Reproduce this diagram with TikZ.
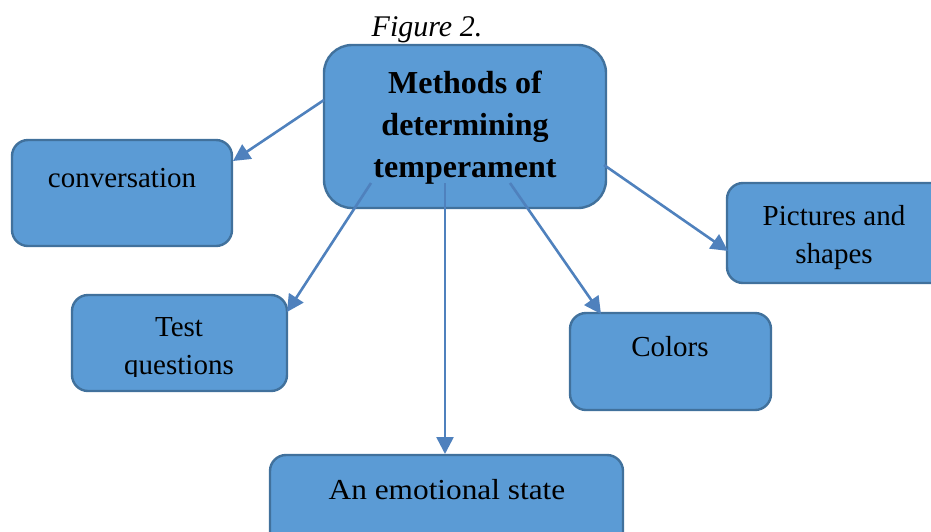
\documentclass[tikz,border=0pt]{standalone}
\usepackage{fontspec}
\usepackage{graphicx}
\setmainfont{Liberation Serif}
\usetikzlibrary{arrows.meta}
\definecolor{boxfill}{HTML}{5B9BD5}
\definecolor{boxline}{HTML}{41719C}
\definecolor{arrowcol}{HTML}{4F81BD}
\tikzset{
  x=1pt,y=-1pt,
  box/.style={draw=boxline,fill=boxfill,line width=2.4pt,rounded corners=16pt},
  bigbox/.style={box,rounded corners=28pt},
  txt/.style={font=\fontsize{29}{38}\selectfont,align=center,inner sep=0pt,anchor=base},
  bigtxt/.style={font=\fontsize{32}{42}\selectfont\bfseries,align=center,inner sep=0pt,anchor=base},
  conn/.style={draw=arrowcol,line width=2.6pt,-{Triangle[length=17pt,width=17pt]}}
}
\begin{document}
\begin{tikzpicture}
\path[use as bounding box,clip] (0,0) rectangle (931,531);
\node[font=\fontsize{30}{36}\selectfont\itshape,inner sep=0pt,anchor=base] (title) at (427,36) {Figure 2.};
% boxes
\draw[bigbox] (324,45) rectangle (606,208);
\draw[box] (12,140) rectangle (232,246);
\draw[box] (727,183) rectangle (950,283);
\draw[box] (72,295) rectangle (287,391);
\draw[box] (570,313) rectangle (771,410);
\draw[box] (270,455) rectangle (623,560);
% texts
\node[bigtxt] (m1) at (465,93) {Methods of};
\node[bigtxt] (m2) at (465,135) {determining};
\node[bigtxt] (m3) at (465,177) {temperament};
\node[txt] (conv) at (122,187) {conversation};
\node[txt] (pic) at (834,263) {Pictures and\\shapes};
\begin{scope}
\clip (72,295) rectangle (287,376);
\node[txt] (test) at (179,374) {Test\\questions};
\end{scope}
\node[txt] (col) at (670,356) {Colors};
\node[txt] (emo) at (447,499) {\scalebox{1.08}[1]{An emotional state}};
% connector ends
\coordinate (a1) at (324,100);
\coordinate (b1) at (233,161);
\coordinate (a2) at (371,183);
\coordinate (b2) at (287,312);
\coordinate (a3) at (445,183);
\coordinate (b3) at (445,454);
\coordinate (a4) at (510,183);
\coordinate (b4) at (601,314);
\coordinate (a5) at (604,165);
\coordinate (b5) at (728,251);
\draw[conn] (a1) -- (b1);
\draw[conn] (a2) -- (b2);
\draw[conn] (a3) -- (b3);
\draw[conn] (a4) -- (b4);
\draw[conn] (a5) -- (b5);
\end{tikzpicture}
\end{document}
